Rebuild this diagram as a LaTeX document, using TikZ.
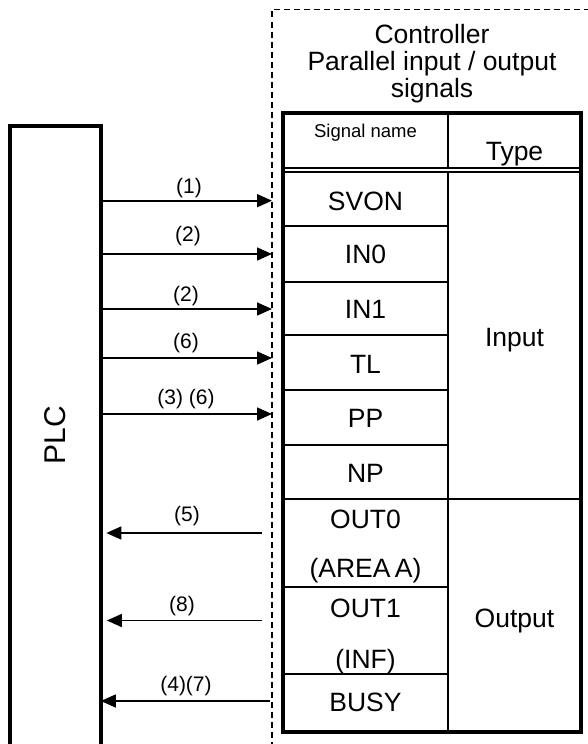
\documentclass[tikz,border=0pt]{standalone}
\usepackage{fontspec}
\setmainfont{Liberation Sans}
\usetikzlibrary{arrows.meta,calc}
\begin{document}
\begin{tikzpicture}[x=1pt,y=-1pt,
  every node/.style={inner sep=0pt,outer sep=0pt},
  bigtext/.style={font=\fontsize{26.5}{30}\selectfont},
  smalltext/.style={font=\fontsize{18.5}{21}\selectfont},
  lbltext/.style={font=\fontsize{21}{24}\selectfont},
  plctext/.style={font=\fontsize{30}{34}\selectfont},
  boxline/.style={line width=4pt},
  gridline/.style={line width=2pt},
  sigarrow/.style={line width=1.6pt,-{Triangle[length=15pt,width=13pt]}},
  boundary/.style={line width=1.5pt,dash pattern=on 6pt off 4pt},
]
\useasboundingbox (0,0) rectangle (587,744);
\fill[white] (0,0) rectangle (587,744);

% controller boundary
\coordinate (bnd) at (272,9.5);
\draw[boundary] (590,9.5) -- (bnd) -- (272,750);

% title
\node[bigtext,anchor=base] (t1) at (432,43) {Controller};
\node[bigtext,anchor=base] (t2) at (432,70) {Parallel input / output};
\node[bigtext,anchor=base] (t3) at (432,97) {signals};

% PLC
\node[draw,boxline,minimum width=90.5pt,minimum height=660pt,anchor=north] (plc) at (55.6,126) {};
\node[plctext,rotate=90] (plclabel) at (55,435) {PLC};

% table grid
\draw[gridline] (448,113) -- (448,732);
\draw[gridline] (283,226) -- (448,226);
\draw[gridline] (283,282) -- (448,282);
\draw[gridline] (283,335) -- (448,335);
\draw[gridline] (283,390) -- (448,390);
\draw[gridline] (283,445) -- (448,445);
\draw[gridline] (283,499) -- (581,499);
\draw[gridline] (283,587) -- (448,587);
\draw[gridline] (283,674) -- (448,674);
\draw[line width=1.8pt,double,double distance=2pt] (283,170.2) -- (581,170.2);
\draw[line width=3.8pt] (283,113) rectangle (581,732);

% table text
\node[smalltext,anchor=base] (hname) at (365.5,137) {Signal name};
\node[bigtext,anchor=base] (htype) at (514.5,160.5) {Type};
\node[bigtext,anchor=base] (svon) at (365.5,210) {SVON};
\node[bigtext,anchor=base] (in0) at (365.5,263.5) {IN0};
\node[bigtext,anchor=base] (in1) at (365.5,318.5) {IN1};
\node[bigtext,anchor=base] (tl) at (365.5,373.5) {TL};
\node[bigtext,anchor=base] (pp) at (365.5,427.5) {PP};
\node[bigtext,anchor=base] (np) at (365.5,482) {NP};
\node[bigtext,anchor=base] (out0) at (365.5,528.5) {OUT0};
\node[bigtext,anchor=base] (areaa) at (365.5,577) {(AREA\,A)};
\node[bigtext,anchor=base] (out1) at (365.5,617) {OUT1};
\node[bigtext,anchor=base] (inf) at (365.5,668) {(INF)};
\node[bigtext,anchor=base] (busy) at (365.5,711.5) {BUSY};
\node[bigtext,anchor=base] (input) at (514.5,346) {Input};
\node[bigtext,anchor=base] (output) at (514.5,627.5) {Output};

% arrow end points on the boundary
\coordinate (a1) at (272,200.7);
\coordinate (a2) at (272,254);
\coordinate (a3) at (272,309);
\coordinate (a4) at (272,358);
\coordinate (a5) at (272,414);
\coordinate (o1) at (262,533);
\coordinate (o2) at (262,620.5);
\coordinate (o3) at (270,701);

\draw[sigarrow] (plc.east |- a1) -- (a1);
\draw[sigarrow] (plc.east |- a2) -- (a2);
\draw[sigarrow] (plc.east |- a3) -- (a3);
\draw[sigarrow] (plc.east |- a4) -- (a4);
\draw[sigarrow] (plc.east |- a5) -- (a5);
\draw[sigarrow] (o1) -- ($(plc.east |- o1)+(5.5,0)$);
\draw[sigarrow] (o2) -- ($(plc.east |- o2)+(6,0)$);
\draw[sigarrow] (o3) -- (plc.east |- o3);

% arrow labels
\node[lbltext] (l1) at (189,188.5) {(1)};
\node[lbltext] (l2) at (188,236.5) {(2)};
\node[lbltext] (l3) at (186,296) {(2)};
\node[lbltext] (l4) at (186,343.5) {(6)};
\node[lbltext] (l5) at (186,399) {(3) (6)};
\node[lbltext] (l6) at (187,516) {(5)};
\node[lbltext] (l7) at (182,606) {(8)};
\node[lbltext] (l8) at (186,686) {(4)(7)};
\end{tikzpicture}
\end{document}
